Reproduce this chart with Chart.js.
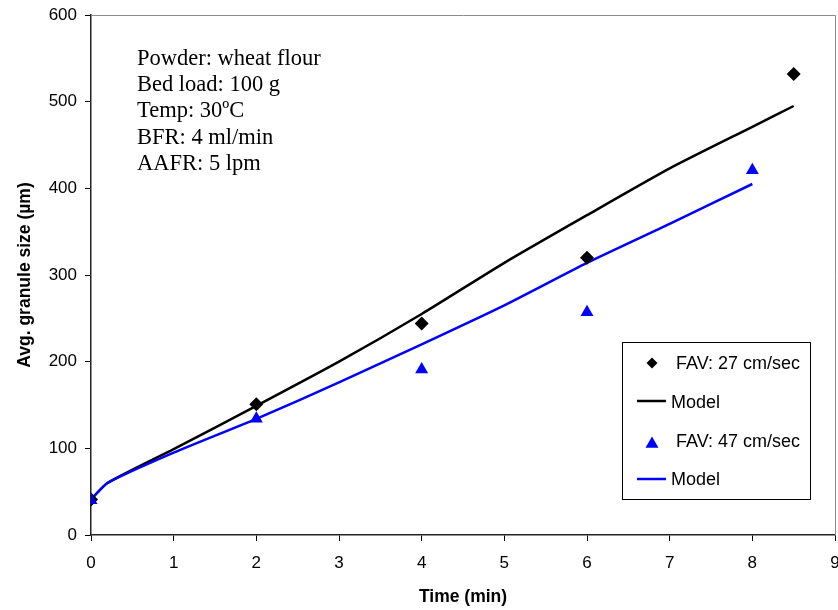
<!DOCTYPE html>
<html>
<head>
<meta charset="utf-8">
<script src="https://cdn.jsdelivr.net/npm/chart.js@4.4.1/dist/chart.umd.min.js"></script>
<style>
  html, body { margin: 0; padding: 0; background: #fff; }
  #wrap { width: 838px; height: 610px; }
</style>
</head>
<body>
<div id="wrap"><canvas id="granuleChart"></canvas></div>
<script>
// Measured points (time in min, size in µm)
const fav27Time = [0, 2, 4, 6, 8.5];
const fav27Size = [41, 151, 244, 320, 532];
const fav47Time = [0, 2, 4, 6, 8];
const fav47Size = [40, 134, 191, 257, 421];

// Model curves
const model27Time = [0, 0.2, 1, 2, 3, 4, 5, 6, 7, 8, 8.5];
const model27Size = [41, 60, 99, 149, 200, 255, 314, 369, 423, 471, 495];
const model47Time = [0, 0.2, 1, 2, 3, 4, 5, 6, 7, 8];
const model47Size = [41, 60, 95, 134, 176, 220, 265, 314, 359, 405];

const xTicks = [0, 1, 2, 3, 4, 5, 6, 7, 8, 9];
const yTicks = [0, 100, 200, 300, 400, 500, 600];

const notes = ['Powder: wheat flour', 'Bed load: 100 g', 'Temp: 30ºC', 'BFR: 4 ml/min', 'AAFR: 5 lpm'];
const legendLabels = ['FAV: 27 cm/sec', 'Model', 'FAV: 47 cm/sec', 'Model'];

function toPoints(xs, ys) {
    return xs.map((x, i) => ({ x: x, y: ys[i] }));
}

Chart.defaults.font.family = '"Liberation Sans", Arial, sans-serif';
Chart.defaults.color = '#000';

// gray frame on top and right, like the Excel plot area
const frame = {
    id: 'frame',
    afterDraw(chart) {
        const { ctx, chartArea: a } = chart;
        ctx.save();
        ctx.strokeStyle = '#8c8c8c';
        ctx.lineWidth = 1;
        ctx.beginPath();
        ctx.moveTo(a.left, a.top + 0.5);
        ctx.lineTo(a.right + 0.5, a.top + 0.5);
        ctx.lineTo(a.right + 0.5, a.bottom);
        ctx.stroke();
        ctx.restore();
    }
};

function diamond(ctx, x, y, r) {
    ctx.beginPath();
    ctx.moveTo(x, y - r);
    ctx.lineTo(x + r, y);
    ctx.lineTo(x, y + r);
    ctx.lineTo(x - r, y);
    ctx.closePath();
    ctx.fill();
}

function triangle(ctx, x, y, r) {
    ctx.beginPath();
    ctx.moveTo(x, y - r);
    ctx.lineTo(x + r * 0.866, y + r * 0.5);
    ctx.lineTo(x - r * 0.866, y + r * 0.5);
    ctx.closePath();
    ctx.fill();
}

const boxes = {
    id: 'boxes',
    afterDraw(chart) {
        const ctx = chart.ctx;
        ctx.save();
        // conditions text
        ctx.font = '22.5px "Liberation Serif", "Times New Roman", serif';
        ctx.fillStyle = '#000';
        ctx.textBaseline = 'middle';
        ctx.textAlign = 'left';
        notes.forEach((t, i) => ctx.fillText(t, 137, 59 + i * 26.2));

        // legend
        ctx.strokeStyle = '#000';
        ctx.lineWidth = 1;
        ctx.strokeRect(622.5, 342.5, 188, 157);
        ctx.font = '18px "Liberation Sans", Arial, sans-serif';
        ctx.fillStyle = '#000';
        diamond(ctx, 652, 363, 5.5);
        ctx.fillText(legendLabels[0], 676, 364);
        ctx.lineWidth = 2.5;
        ctx.beginPath();
        ctx.moveTo(637, 401);
        ctx.lineTo(666, 401);
        ctx.stroke();
        ctx.fillText(legendLabels[1], 671, 403);
        ctx.fillStyle = '#0000ff';
        triangle(ctx, 652, 444, 7.5);
        ctx.fillStyle = '#000';
        ctx.fillText(legendLabels[2], 676, 442);
        ctx.strokeStyle = '#0000ff';
        ctx.beginPath();
        ctx.moveTo(637, 479);
        ctx.lineTo(666, 479);
        ctx.stroke();
        ctx.fillText(legendLabels[3], 671, 480);
        ctx.restore();
    }
};

const ctx = document.getElementById('granuleChart').getContext('2d');
new Chart(ctx, {
    type: 'scatter',
    data: {
        datasets: [
            {
                label: legendLabels[2],
                data: toPoints(fav47Time, fav47Size),
                pointStyle: 'triangle',
                pointRadius: 7.5,
                backgroundColor: '#0000ff',
                borderColor: '#0000ff',
                borderWidth: 0,
                showLine: false
            },
            {
                label: legendLabels[0],
                data: toPoints(fav27Time, fav27Size),
                pointStyle: 'rectRot',
                pointRadius: 7,
                backgroundColor: '#000',
                borderColor: '#000',
                borderWidth: 0,
                showLine: false
            },
            {
                label: legendLabels[3],
                data: toPoints(model47Time, model47Size),
                showLine: true,
                borderColor: '#0000ff',
                borderWidth: 2.5,
                pointRadius: 0,
                tension: 0.2
            },
            {
                label: legendLabels[1],
                data: toPoints(model27Time, model27Size),
                showLine: true,
                borderColor: '#000',
                borderWidth: 2.5,
                pointRadius: 0,
                tension: 0.2
            }
        ]
    },
    options: {
        responsive: true,
        maintainAspectRatio: false,
        animation: false,
        layout: { autoPadding: false, padding: { top: 15, right: 3, left: 0, bottom: 0 } },
        plugins: {
            legend: { display: false },
            tooltip: { enabled: false }
        },
        scales: {
            x: {
                type: 'linear',
                min: 0,
                max: 9,
                afterBuildTicks: (s) => { s.ticks = xTicks.map(v => ({ value: v })); },
                afterFit: (s) => { s.height = 75; s.paddingLeft = 0; s.paddingRight = 0; },
                ticks: { font: { size: 17 }, padding: 12, color: '#000' },
                grid: { drawOnChartArea: false, drawTicks: true, tickLength: 6, color: '#000' },
                border: { color: '#222', width: 1.5 },
                title: {
                    display: true,
                    text: 'Time (min)',
                    font: { size: 17.5, weight: 'bold' },
                    padding: { top: 0, bottom: 2 }
                }
            },
            y: {
                type: 'linear',
                min: 0,
                max: 600,
                afterBuildTicks: (s) => { s.ticks = yTicks.map(v => ({ value: v })); },
                afterFit: (s) => { s.width = 91; s.paddingTop = 0; s.paddingBottom = 0; },
                ticks: { font: { size: 17 }, padding: 8, color: '#000' },
                grid: { drawOnChartArea: false, drawTicks: true, tickLength: 6, color: '#000' },
                border: { color: '#222', width: 1.5 },
                title: {
                    display: true,
                    text: 'Avg. granule size (µm)',
                    font: { size: 17.5, weight: 'bold' },
                    padding: { top: 15, bottom: 0 }
                }
            }
        }
    },
    plugins: [frame, boxes]
});
</script>
</body>
</html>
